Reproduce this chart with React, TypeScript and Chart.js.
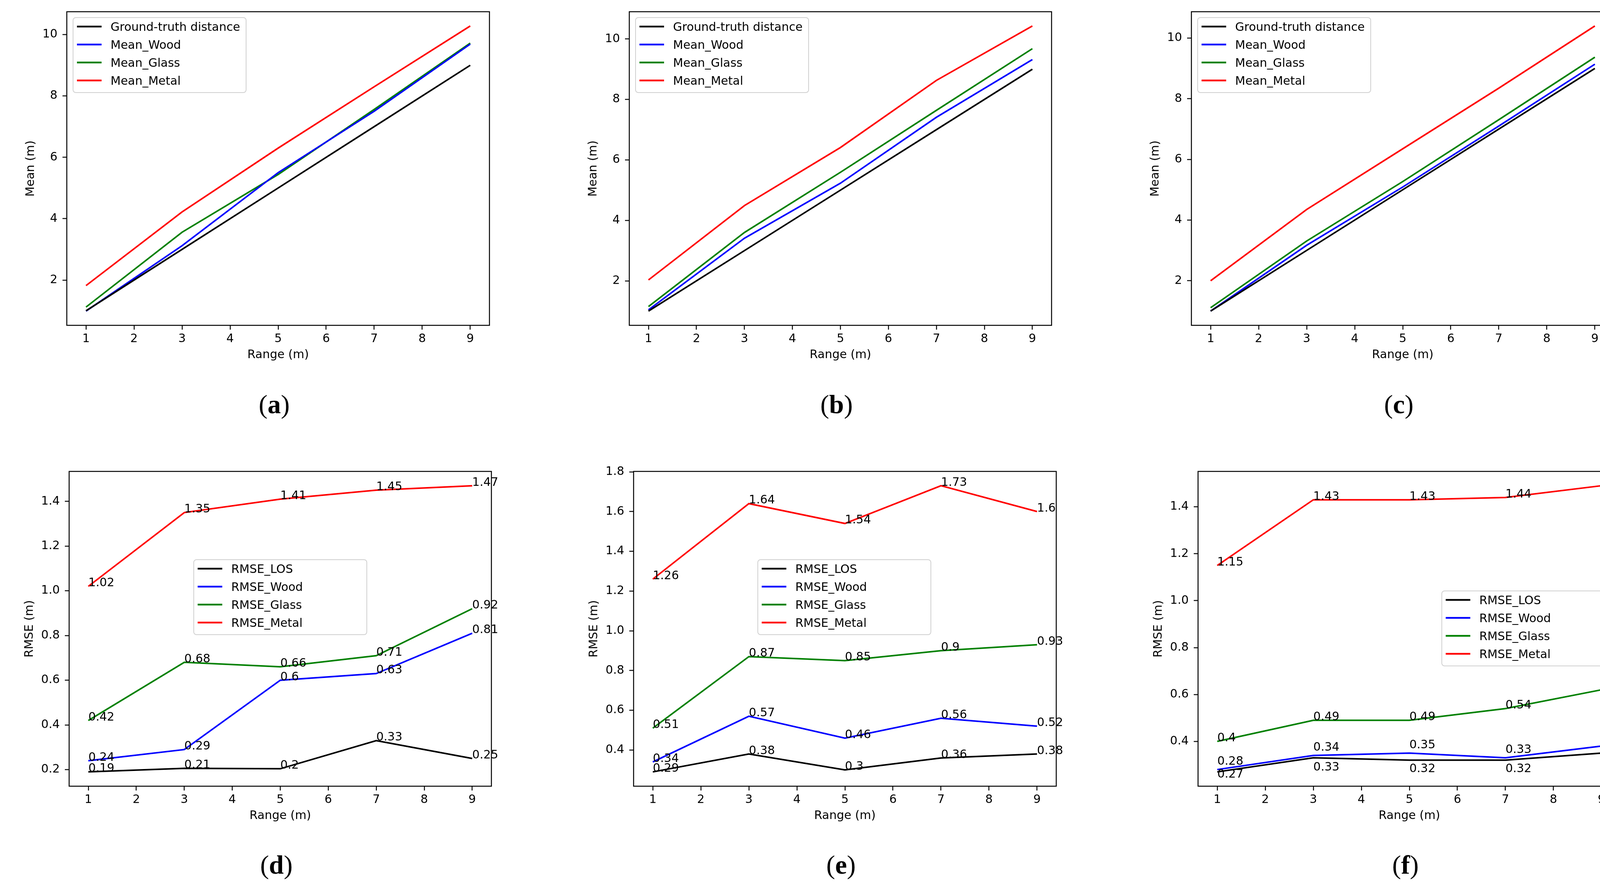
import { useEffect, useRef } from 'react';
import { Chart, registerables } from 'chart.js';

Chart.register(...registerables);

const FONT = "'DejaVu Sans', sans-serif";
const FS = 30;

// shared axes
const ranges = [1, 3, 5, 7, 9];
const rangeTicks = [1, 2, 3, 4, 5, 6, 7, 8, 9];
const meanTicks = [2, 4, 6, 8, 10];
const rmseTicksD = [0.2, 0.4, 0.6, 0.8, 1.0, 1.2, 1.4];
const rmseTicksE = [0.4, 0.6, 0.8, 1.0, 1.2, 1.4, 1.6, 1.8];
const rmseTicksF = [0.4, 0.6, 0.8, 1.0, 1.2, 1.4];

const meanNames = ['Ground-truth distance', 'Mean_Wood', 'Mean_Glass', 'Mean_Metal'];
const rmseNames = ['RMSE_LOS', 'RMSE_Wood', 'RMSE_Glass', 'RMSE_Metal'];
const seriesColors = ['#000000', '#0000ff', '#008000', '#ff0000'];

// (a)-(c) mean measured distance
const groundTruth = [1, 3, 5, 7, 9];
const meanWoodA = [0.99, 3.12, 5.5, 7.5, 9.69];
const meanGlassA = [1.12, 3.56, 5.44, 7.56, 9.72];
const meanMetalA = [1.82, 4.22, 6.3, 8.3, 10.28];
const meanWoodB = [1.04, 3.41, 5.23, 7.41, 9.32];
const meanGlassB = [1.15, 3.6, 5.59, 7.64, 9.68];
const meanMetalB = [2.03, 4.49, 6.41, 8.63, 10.43];
const meanWoodC = [1.0, 3.17, 5.09, 7.1, 9.14];
const meanGlassC = [1.11, 3.31, 5.27, 7.31, 9.37];
const meanMetalC = [2.0, 4.35, 6.35, 8.35, 10.4];

// (d)-(f) RMSE
const rmseLosD = [0.19, 0.206, 0.204, 0.33, 0.25];
const rmseWoodD = [0.24, 0.29, 0.6, 0.63, 0.81];
const rmseGlassD = [0.42, 0.68, 0.66, 0.71, 0.92];
const rmseMetalD = [1.02, 1.35, 1.41, 1.45, 1.47];
const rmseLosE = [0.29, 0.38, 0.3, 0.36, 0.38];
const rmseWoodE = [0.34, 0.57, 0.46, 0.56, 0.52];
const rmseGlassE = [0.51, 0.87, 0.85, 0.9, 0.93];
const rmseMetalE = [1.26, 1.64, 1.54, 1.73, 1.6];
const rmseLosF = [0.27, 0.33, 0.32, 0.32, 0.35];
const rmseWoodF = [0.28, 0.34, 0.35, 0.33, 0.38];
const rmseGlassF = [0.4, 0.49, 0.49, 0.54, 0.62];
const rmseMetalF = [1.15, 1.43, 1.43, 1.44, 1.49];

const PAD_TOP = 40;
const PAD_RIGHT = 100;
const PAD_BOTTOM = 4;

function fmt(v: number): string {
  return String(Number(v.toFixed(2)));
}

// axes frame (all four spines) + value annotations
const framePlugin = {
  id: 'mplFrame',
  afterDatasetsDraw(chart: any, _args: any, opts: any) {
    const { ctx, chartArea } = chart;
    ctx.save();
    ctx.strokeStyle = '#000';
    ctx.lineWidth = 2.5;
    ctx.strokeRect(chartArea.left, chartArea.top, chartArea.right - chartArea.left, chartArea.bottom - chartArea.top);
    if (opts.values) {
      ctx.font = `${FS}px ${FONT}`;
      ctx.fillStyle = '#000';
      ctx.textAlign = 'left';
      ctx.textBaseline = 'alphabetic';
      chart.data.datasets.forEach((ds: any, i: number) => {
        const meta = chart.getDatasetMeta(i);
        meta.data.forEach((pt: any, j: number) => {
          const dy = opts.shift?.[i]?.[j] ?? 0;
          ctx.fillText(fmt(ds.data[j].y), pt.x, pt.y + dy);
        });
      });
    }
    ctx.restore();
  },
};

const legendPlugin = {
  id: 'mplLegend',
  afterDraw(chart: any, _args: any, opts: any) {
    const { ctx, chartArea } = chart;
    const x = chartArea.left + opts.dx;
    const y = chartArea.top + opts.dy;
    ctx.save();
    ctx.beginPath();
    ctx.roundRect(x, y, 443, 192, 7);
    ctx.fillStyle = 'rgba(255,255,255,0.8)';
    ctx.fill();
    ctx.strokeStyle = '#d0d0d0';
    ctx.lineWidth = 2;
    ctx.stroke();
    ctx.font = `${FS}px ${FONT}`;
    ctx.textAlign = 'left';
    ctx.textBaseline = 'alphabetic';
    chart.data.datasets.forEach((ds: any, i: number) => {
      const cy = y + 23 + i * 46;
      ctx.beginPath();
      ctx.moveTo(x + 10, cy);
      ctx.lineTo(x + 73, cy);
      ctx.strokeStyle = ds.borderColor;
      ctx.lineWidth = 4.5;
      ctx.stroke();
      ctx.fillStyle = '#000';
      ctx.fillText(ds.label, x + 96, cy + 11);
    });
    ctx.restore();
  },
};

interface PanelProps {
  left: number;
  top: number;
  width: number;
  height: number;
  yAxisW: number;
  xAxisH: number;
  yTitle: string;
  names: string[];
  series: number[][];
  yTicks: number[];
  yDecimals: number;
  values: boolean;
  legendDx: number;
  legendDy: number;
  shift?: number[][];
}

function Panel(p: PanelProps): React.JSX.Element {
  const canvasRef = useRef<HTMLCanvasElement>(null);
  const cw = p.width + p.yAxisW + PAD_RIGHT;
  const ch = PAD_TOP + p.height + p.xAxisH + PAD_BOTTOM;

  useEffect(() => {
    if (!canvasRef.current) return;
    const all = p.series.flat();
    const lo = Math.min(...all);
    const hi = Math.max(...all);
    const m = (hi - lo) * 0.05;
    const font = { family: FONT, size: FS };

    const chart = new Chart(canvasRef.current, {
      type: 'line',
      data: {
        datasets: p.series.map((s, i) => ({
          label: p.names[i],
          data: ranges.map((x, j) => ({ x, y: s[j] })),
          borderColor: seriesColors[i],
          backgroundColor: seriesColors[i],
          borderWidth: 4,
          pointRadius: 0,
          tension: 0,
          fill: false,
        })),
      },
      options: {
        animation: false,
        responsive: false,
        devicePixelRatio: 1,
        layout: { padding: { top: PAD_TOP, right: PAD_RIGHT, bottom: PAD_BOTTOM, left: 0 } },
        plugins: {
          legend: { display: false },
          tooltip: { enabled: false },
          mplFrame: { values: p.values, shift: p.shift },
          mplLegend: { dx: p.legendDx, dy: p.legendDy },
        } as any,
        scales: {
          x: {
            type: 'linear',
            min: 0.6,
            max: 9.4,
            afterBuildTicks: (s: any) => {
              s.ticks = rangeTicks.map((v) => ({ value: v }));
            },
            afterFit: (s: any) => {
              s.height = p.xAxisH;
            },
            grid: { drawOnChartArea: false, drawTicks: true, tickLength: 11, tickWidth: 2.4, tickColor: '#000' },
            border: { display: false },
            ticks: {
              color: '#000',
              font,
              padding: 6,
              autoSkip: false,
              maxRotation: 0,
              callback: (v: any) => String(v),
            },
            title: { display: true, text: 'Range (m)', color: '#000', font, padding: 0 },
          },
          y: {
            type: 'linear',
            min: lo - m,
            max: hi + m,
            afterBuildTicks: (s: any) => {
              s.ticks = p.yTicks.map((v) => ({ value: v }));
            },
            afterFit: (s: any) => {
              s.width = p.yAxisW;
            },
            grid: { drawOnChartArea: false, drawTicks: true, tickLength: 11, tickWidth: 2.4, tickColor: '#000' },
            border: { display: false },
            ticks: {
              color: '#000',
              font,
              padding: 13,
              autoSkip: false,
              callback: (v: any) => Number(v).toFixed(p.yDecimals),
            },
            title: { display: true, text: p.yTitle, color: '#000', font, padding: 0 },
          },
        },
      },
      plugins: [framePlugin, legendPlugin],
    });

    return () => {
      chart.destroy();
    };
  }, [p]);

  return (
    <canvas
      ref={canvasRef}
      width={cw}
      height={ch}
      style={{
        position: 'absolute',
        left: p.left - p.yAxisW,
        top: p.top - PAD_TOP,
        width: cw,
        height: ch,
      }}
    />
  );
}

const ROW1 = { top: 30, height: 803, yAxisW: 110, xAxisH: 94 };
const ROW2 = { top: 1207, height: 806, yAxisW: 119, xAxisH: 94 };

const panels: (PanelProps & { tag: string; capY: number })[] = [
  {
    ...ROW1, tag: 'a', capY: 1035, left: 171, width: 1082, yTitle: 'Mean (m)', names: meanNames,
    series: [groundTruth, meanWoodA, meanGlassA, meanMetalA], yTicks: meanTicks, yDecimals: 0,
    values: false, legendDx: 16, legendDy: 15,
  },
  {
    ...ROW1, tag: 'b', capY: 1035, left: 1611, width: 1081, yTitle: 'Mean (m)', names: meanNames,
    series: [groundTruth, meanWoodB, meanGlassB, meanMetalB], yTicks: meanTicks, yDecimals: 0,
    values: false, legendDx: 16, legendDy: 15,
  },
  {
    ...ROW1, tag: 'c', capY: 1035, left: 3050, width: 1082, yTitle: 'Mean (m)', names: meanNames,
    series: [groundTruth, meanWoodC, meanGlassC, meanMetalC], yTicks: meanTicks, yDecimals: 0,
    values: false, legendDx: 16, legendDy: 15,
  },
  {
    ...ROW2, tag: 'd', capY: 2214, left: 177, width: 1081, yTitle: 'RMSE (m)', names: rmseNames,
    series: [rmseLosD, rmseWoodD, rmseGlassD, rmseMetalD], yTicks: rmseTicksD, yDecimals: 1,
    values: true, legendDx: 319, legendDy: 226,
  },
  {
    ...ROW2, tag: 'e', capY: 2214, left: 1622, width: 1082, yTitle: 'RMSE (m)', names: rmseNames,
    series: [rmseLosE, rmseWoodE, rmseGlassE, rmseMetalE], yTicks: rmseTicksE, yDecimals: 1,
    values: true, legendDx: 318, legendDy: 226,
  },
  {
    ...ROW2, tag: 'f', capY: 2214, left: 3067, width: 1082, yTitle: 'RMSE (m)', names: rmseNames,
    series: [rmseLosF, rmseWoodF, rmseGlassF, rmseMetalF], yTicks: rmseTicksF, yDecimals: 1,
    values: true, legendDx: 624, legendDy: 306,
    // (f) has the LOS labels under the line and the wood labels lifted a bit
    shift: [[15, 33, 31, 31, 13], [-12, -12, -12, -12, -12]],
  },
];

export default function App(): React.JSX.Element {
  return (
    <div
      style={{
        position: 'absolute',
        left: 0,
        top: 0,
        width: 4210,
        height: 2289,
        background: '#fff',
        overflow: 'hidden',
      }}
    >
      {panels.map((p) => (
        <div key={p.tag}>
          <Panel {...p} />
          <div
            style={{
              position: 'absolute',
              left: p.left + p.width / 2 - 10 - 200,
              top: p.capY - 34,
              width: 400,
              textAlign: 'center',
              fontFamily: "'Liberation Serif', serif",
              fontSize: 68,
              lineHeight: '68px',
              color: '#000',
            }}
          >
            (<b>{p.tag}</b>)
          </div>
        </div>
      ))}
    </div>
  );
}
